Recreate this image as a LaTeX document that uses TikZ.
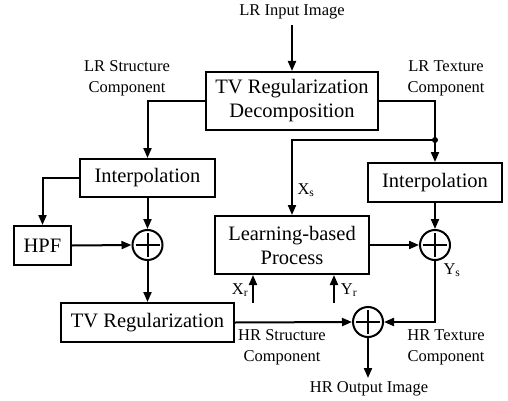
\documentclass[tikz,border=0pt]{standalone}
\usepackage{fontspec}
\setmainfont{Liberation Serif}
\usetikzlibrary{arrows.meta,calc}
\begin{document}
\begin{tikzpicture}[x=1pt,y=-1pt,
  line width=2pt,
  arr/.style={-{Triangle[length=10pt,width=8pt]}},
  blk/.style={draw,rectangle,inner sep=0pt,font=\fontsize{20.5}{24}\selectfont,align=center},
  lbl/.style={inner sep=0pt,font=\fontsize{16.5}{21}\selectfont,align=center},
  sumnode/.style={draw,circle,minimum size=30pt,inner sep=0pt,
    path picture={\draw[line width=2pt] ($(path picture bounding box.north)+(0,-3pt)$) -- ($(path picture bounding box.south)+(0,3pt)$);
                  \draw[line width=2pt] ($(path picture bounding box.west)+(3pt,0)$) -- ($(path picture bounding box.east)+(-3pt,0)$);}}
]
\useasboundingbox (0,0) rectangle (508,401);
% boxes
\node[blk,minimum width=172pt,minimum height=58pt] (dec) at (292,101) {TV Regularization\\Decomposition};
\node[blk,minimum width=135pt,minimum height=38pt] (interpL) at (147.5,178) {Interpolation};
\node[blk,minimum width=134pt,minimum height=39pt] (interpR) at (435,182.5) {Interpolation};
\node[blk,minimum width=57pt,minimum height=39pt] (hpf) at (42.5,245.5) {HPF};
\node[blk,minimum width=154pt,minimum height=58pt] (learn) at (292,245) {Learning-based\\Process};
\node[blk,minimum width=173pt,minimum height=39pt] (tvr) at (147.5,322.5) {TV Regularization};
% sums
\node[sumnode] (sumL) at (147.5,245) {};
\node[sumnode] (sumR) at (435,245) {};
\node[sumnode] (sumH) at (368,322) {};
% labels
\node[lbl] (lin) at (292,12) {LR Input Image};
\node[lbl] (lrs) at (127,78) {LR Structure\\Component};
\node[lbl] (lrt) at (446,78) {LR Texture\\Component};
\node[lbl] (xs) at (306,190) {X\textsubscript{s}};
\node[lbl] (ys) at (452,270) {Y\textsubscript{s}};
\node[lbl] (xr) at (240,290) {X\textsubscript{r}};
\node[lbl] (yr) at (349,290) {Y\textsubscript{r}};
\node[lbl] (hrs) at (282,347) {HR Structure\\Component};
\node[lbl] (hrt) at (446,347) {HR Texture\\Component};
\node[lbl] (hout) at (369,389) {HR Output Image};
% coordinates
\coordinate (inTop) at (292,25);
\coordinate (br) at (435,140);
\coordinate (outBot) at (368,378);
\coordinate (xrB) at (253,303);
\coordinate (yrB) at (334,303);
% connectors
\draw[arr] (inTop) -- (dec.north);
\draw[arr] (dec.west) -| (interpL.north);
\draw[arr] (dec.east) -| (interpR.north);
\fill (br) circle (3pt);
\draw[arr] (br) -| (learn.north);
\draw[arr] (interpL.west) -| (hpf.north);
\draw[arr] (hpf.east) -- (sumL.west);
\draw[arr] (interpL.south) -- (sumL.north);
\draw[arr] (sumL.south) -- (tvr.north);
\draw[arr] (learn.east) -- (sumR.west);
\draw[arr] (interpR.south) -- (sumR.north);
\draw[arr] (sumR.south) |- (sumH.east);
\draw[arr] (tvr.east) -- (sumH.west);
\draw[arr] (sumH.south) -- (outBot);
\draw[arr] (xrB) -- (xrB |- learn.south);
\draw[arr] (yrB) -- (yrB |- learn.south);
\end{tikzpicture}
\end{document}
